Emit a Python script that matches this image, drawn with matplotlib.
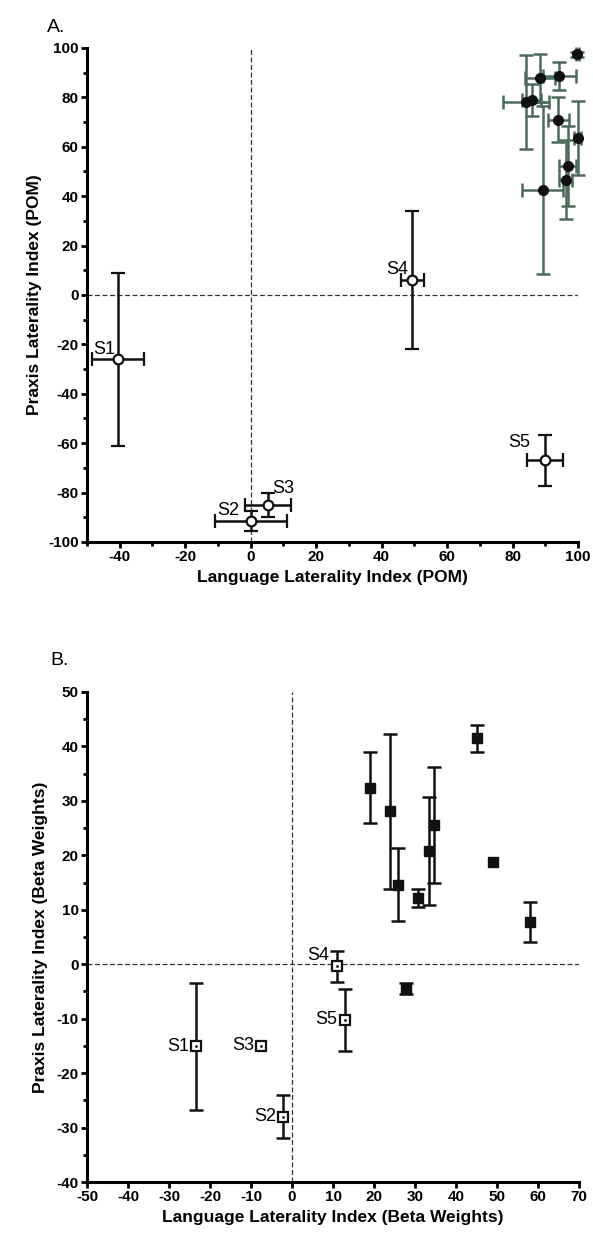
import numpy as np
import matplotlib.pyplot as plt
from matplotlib.ticker import MultipleLocator

plt.rcParams['font.family'] = ['Liberation Sans', 'DejaVu Sans']
plt.rcParams['axes.unicode_minus'] = False

# Panel A: patients (open circles) and controls (filled), POM
lang_a_sub = [-40.5, 0.0, 5.3, 49.4, 89.9]
prax_a_sub = [-26.0, -91.5, -85.0, 6.0, -67.0]
lang_a_sub_err = [8.0, 11.0, 7.0, 3.5, 5.5]
prax_a_sub_err = [35.0, 4.0, 5.0, 28.0, 10.5]
sub_names = ['S1', 'S2', 'S3', 'S4', 'S5']

lang_a_ctl = [99.8, 88.5, 94.3, 84.0, 85.8, 94.0, 99.9, 96.9, 96.3, 89.2]
prax_a_ctl = [97.4, 87.7, 88.7, 78.0, 79.0, 71.0, 63.7, 52.2, 46.6, 42.4]
lang_a_ctl_err = [0.5, 4.6, 5.0, 7.0, 3.0, 3.3, 1.0, 2.6, 2.0, 6.2]
prax_a_ctl_err = [1.0, 9.7, 5.6, 19.0, 6.5, 9.0, 15.0, 16.0, 16.0, 34.0]

# Panel B: beta weights
lang_b_sub = [-23.5, -2.2, -7.6, 11.0, 13.0]
prax_b_sub = [-15.1, -28.0, -15.0, -0.4, -10.2]
prax_b_sub_err = [11.7, 4.0, 0.0, 2.8, 5.7]

lang_b_ctl = [18.9, 23.8, 25.8, 30.7, 33.5, 34.7, 27.7, 45.0, 49.0, 58.0]
prax_b_ctl = [32.4, 28.1, 14.6, 12.2, 20.8, 25.6, -4.5, 41.5, 18.7, 7.8]
prax_b_ctl_err = [6.5, 14.2, 6.7, 1.7, 10.0, 10.7, 1.0, 2.5, 0.0, 3.7]

ctl_color = '#4d6b5b'

fig = plt.figure(figsize=(5.93, 12.45), dpi=100)
axA = fig.add_axes([0.1467, 0.5647, 0.828, 0.3968])
axB = fig.add_axes([0.1467, 0.0506, 0.83, 0.3936])


def style(ax):
    for s in ['top', 'right']:
        ax.spines[s].set_visible(False)
    for s in ['left', 'bottom']:
        ax.spines[s].set_linewidth(2.2)
    ax.tick_params(which='major', length=4, width=2, labelsize=11, pad=2)
    ax.tick_params(which='minor', length=3, width=2)
    for lab in ax.get_xticklabels() + ax.get_yticklabels():
        lab.set_fontweight('bold')


def bars(ax, x, y, yerr, **kw):
    # only draw bars where there is an error value
    keep = [i for i in range(len(x)) if yerr[i] > 0]
    ax.errorbar([x[i] for i in keep], [y[i] for i in keep], yerr=[yerr[i] for i in keep],
                fmt='none', ecolor='#111111', elinewidth=1.8, capsize=5, capthick=1.8,
                zorder=2, **kw)


# ---- A ----
axA.axhline(0, color='#333333', lw=0.9, ls=(0, (4, 2)), zorder=1)
axA.axvline(0, color='#333333', lw=0.9, ls=(0, (4, 2)), zorder=1)
eb = axA.errorbar(lang_a_ctl, prax_a_ctl, xerr=lang_a_ctl_err, yerr=prax_a_ctl_err,
                  fmt='none', ecolor=ctl_color, elinewidth=1.8, capsize=5, capthick=1.8, zorder=2)
for art in eb.get_children():
    art.set_clip_on(False)
axA.plot(lang_a_ctl, prax_a_ctl, 'o', color='#111111', ms=7, zorder=4, clip_on=False)
axA.errorbar(lang_a_sub, prax_a_sub, xerr=lang_a_sub_err, yerr=prax_a_sub_err,
             fmt='o', color='#111111', mfc='white', mec='#111111', mew=1.6, ms=7,
             elinewidth=1.8, capsize=5, capthick=1.8, zorder=3)
a_lab = [(-41.5, -24.0, 'right'), (-3.5, -89.0, 'right'), (6.5, -80.0, 'left'),
         (48.0, 8.5, 'right'), (85.5, -61.5, 'right')]
for (tx, ty, ha), name in zip(a_lab, sub_names):
    axA.text(tx, ty, name, ha=ha, va='baseline', fontsize=13)
axA.set_xlim(-50, 100)
axA.set_ylim(-100, 100)
axA.xaxis.set_major_locator(MultipleLocator(20))
axA.xaxis.set_minor_locator(MultipleLocator(10))
axA.yaxis.set_major_locator(MultipleLocator(20))
axA.yaxis.set_minor_locator(MultipleLocator(10))
axA.set_xlabel('Language Laterality Index (POM)', fontsize=12.5, fontweight='bold', labelpad=4)
axA.set_ylabel('Praxis Laterality Index (POM)', fontsize=12.5, fontweight='bold', labelpad=4)
style(axA)

# ---- B ----
axB.axhline(0, color='#333333', lw=0.9, ls=(0, (4, 2)), zorder=1)
axB.axvline(0, color='#333333', lw=0.9, ls=(0, (4, 2)), zorder=1)
bars(axB, lang_b_ctl, prax_b_ctl, prax_b_ctl_err)
axB.plot(lang_b_ctl, prax_b_ctl, 's', color='#111111', ms=7, zorder=3)
bars(axB, lang_b_sub, prax_b_sub, prax_b_sub_err)
axB.plot(lang_b_sub, prax_b_sub, 's', color='#111111', mfc='white', mec='#111111',
         mew=1.6, ms=7.5, zorder=3)
axB.plot(lang_b_sub, prax_b_sub, '.', color='#111111', ms=2, zorder=4)
b_lab = [(-25.0, -15.1), (-3.8, -28.0), (-9.3, -15.0), (9.0, 1.6), (11.0, -10.2)]
for (tx, ty), name in zip(b_lab, sub_names):
    axB.text(tx, ty, name, ha='right', va='center', fontsize=13)
axB.set_xlim(-50, 70)
axB.set_ylim(-40, 50)
axB.xaxis.set_major_locator(MultipleLocator(10))
axB.yaxis.set_major_locator(MultipleLocator(10))
axB.yaxis.set_minor_locator(MultipleLocator(5))
axB.set_xlabel('Language Laterality Index (Beta Weights)', fontsize=12.5, fontweight='bold', labelpad=4)
axB.set_ylabel('Praxis Laterality Index (Beta Weights)', fontsize=12.5, fontweight='bold', labelpad=6)
style(axB)

fig.text(0.08, 0.985, 'A.', fontsize=14, va='top')
fig.text(0.085, 0.476, 'B.', fontsize=14, va='top')

plt.savefig('out.png', dpi=100)
